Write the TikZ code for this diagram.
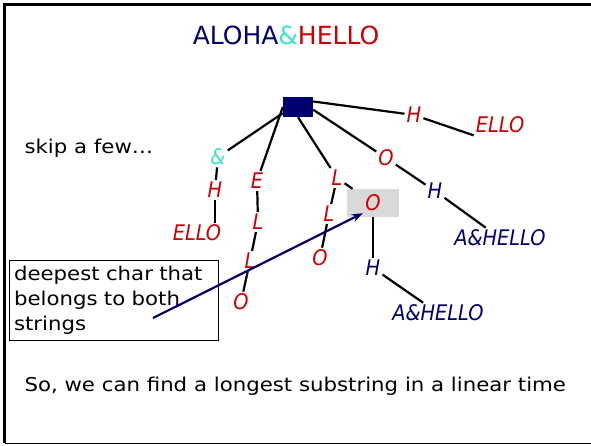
\documentclass[tikz,border=0pt]{standalone}
\usepackage{fontspec}
\setmainfont{DejaVu Sans}
\newfontfamily\slidefont[FakeStretch=1.12]{DejaVu Sans}
\newfontfamily\treefont[FakeStretch=0.9]{DejaVu Sans}
\usetikzlibrary{arrows.meta}
\definecolor{navy}{RGB}{0,0,110}
\definecolor{treered}{RGB}{204,0,0}
\definecolor{aqua}{RGB}{51,230,204}
\definecolor{boxgray}{RGB}{217,217,217}
\tikzset{
  ch/.style={font=\treefont\fontsize{21.5}{21.5}\selectfont\itshape, inner sep=2pt},
  rd/.style={ch, text=treered},
  bl/.style={ch, text=navy},
  br/.style={line width=2.2pt},
  txt/.style={font=\slidefont\fontsize{19}{25}\selectfont},
}
\begin{document}
\begin{tikzpicture}[x=1pt, y=-1pt, >={Stealth[length=11pt, width=8pt]}]
	\useasboundingbox (0,0) rectangle (591,445);
	% slide frame
	\draw[line width=3pt] (591,4.5) -- (4.5,4.5) -- (4.5,443);
	\draw[line width=1pt] (4.5,443) -- (591,443);
	\node[font=\fontsize{25}{25}\selectfont] (title) at (286,35) {\textcolor{navy}{ALOHA}\textcolor{aqua}{\&}\textcolor{treered}{HELLO}};
	\node[txt, anchor=west] (skip) at (21,148) {skip a few\dots};
	% tree
	\node[fill=navy, minimum width=30, minimum height=20, inner sep=0] (root) at (298,107) {};
	\node[ch, text=aqua] (amp) at (218,157) {\&};
	\node[rd] (h1) at (215,190) {H};
	\node[rd] (ello1) at (197,233) {ELLO};
	\node[rd] (e2) at (257,181) {E};
	\node[rd] (l2a) at (258,222) {L};
	\node[rd] (l2b) at (250,261) {L};
	\node[rd] (o2) at (241,302) {O};
	\node[rd] (l3a) at (337,178) {L};
	\node[rd] (l3b) at (329,214) {L};
	\node[rd] (o3) at (320,258) {O};
	\node[rd, fill=boxgray, minimum width=52, minimum height=28] (hlO) at (373,203) {O};
	\node[bl] (h3) at (373,268) {H};
	\node[bl] (ahello3) at (438,313) {A\&HELLO};
	\node[rd] (o4) at (386,158) {O};
	\node[bl] (h4) at (435,191) {H};
	\node[bl] (ahello4) at (500,238) {A\&HELLO};
	\node[rd] (h5) at (414,115) {H};
	\node[rd] (ello5) at (500,125) {ELLO};
	\draw[br] (root.202) -- (amp);
	\draw[br] (root.west) -- (e2);
	\draw[br] (root.south) -- (l3a);
	\draw[br] (root.-10) -- (o4);
	\draw[br] (root.20) -- (h5);
	\draw[br] (amp) -- (h1);
	\draw[br] (h1) -- (h1 |- ello1.north);
	\draw[br] (e2) -- (l2a);
	\draw[br] (l2a) -- (l2b);
	\draw[br] (l2b) -- (o2);
	\draw[br] (l3a) -- (l3b);
	\draw[br] (l3b) -- (o3);
	\draw[br] (l3a) -- (hlO);
	\draw[br] (hlO) -- (h3);
	\draw[br] (h3) -- (ahello3);
	\draw[br] (o4) -- (h4);
	\draw[br] (h4) -- (ahello4);
	\draw[br] (h5) -- (ello5.south west);
	% callout
	\node[txt, draw, line width=0.8pt, minimum width=209, minimum height=80, text width=199, inner xsep=5, align=left] (note) at (113.5,300) {deepest char that\\belongs to both\\strings};
	\coordinate (tail) at (153,318);
	\draw[->, navy, line width=2.2pt] (tail) -- ([xshift=16pt, yshift=4pt]hlO.south west);
	\node[txt, anchor=west] (concl) at (21,386) {So, we can find a longest substring in a linear time};
\end{tikzpicture}
\end{document}
